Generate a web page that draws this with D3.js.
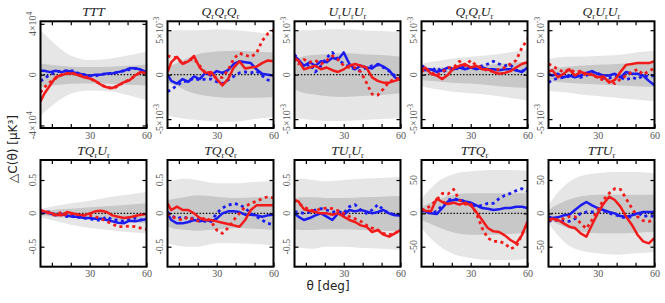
<!DOCTYPE html>
<html><head><meta charset="utf-8">
<script src="https://cdn.jsdelivr.net/npm/d3@7"></script>
<style>body{margin:0;background:#fff}</style>
</head><body><svg id="chart" width="665" height="303"></svg>
<script>
// ---------- DATA ----------
const theta = [4,6,9,12,15,18,21,24,27,30,33,36,39,42,45,48,51,54,57,60];
const bandTheta = [4,8,14,20,30,40,50,60];
const titles = ["TTT","Q_rQ_rQ_r","U_rU_rU_r","Q_rQ_rU_r","Q_rU_rU_r","TQ_rU_r","TQ_rQ_r","TU_rU_r","TTQ_r","TTU_r"];
// values in display units (TTT: 1e4, Q/U top row: 1e-3)
const yMax = [4.2,6,6,6,6,0.8,0.8,0.8,80,80];
const yTick = [4,5,5,5,5,0.5,0.5,0.5,50,50];
const yTickLabels = [
  ["-4×10^4","0","4×10^4"],["-5×10^-3","0","5×10^-3"],["-5×10^-3","0","5×10^-3"],["-5×10^-3","0","5×10^-3"],["-5×10^-3","0","5×10^-3"],
  ["-0.5","0","0.5"],["-0.5","0","0.5"],["-0.5","0","0.5"],["-50","0","50"],["-50","0","50"]];
const xTickLabels = [30,60];

const redSolid = [
  [-2.1,-1.5,-0.85,-0.2,-0.05,0.1,0.1,-0.05,-0.2,-0.3,-0.5,-0.8,-1.0,-1.05,-0.85,-0.6,-0.45,-0.05,0.2,0.1],
  [0.3,1.4,2.0,1.2,1.5,2.1,0.8,0.2,0.3,-0.5,-1.2,-0.5,0.8,1.5,0.7,0.8,0.9,1.3,1.6,1.5],
  [1.9,1.6,0.6,0.8,1.0,0.6,0.8,0.5,0.3,0.6,1.0,1.2,1.0,0.8,-0.3,-0.7,-0.9,-0.9,-0.7,-0.5],
  [0.6,0.8,0.1,-0.1,-0.5,0.0,0.7,1.0,1.2,0.8,1.0,0.6,0.6,0.3,0.1,0.2,0.4,0.8,1.2,1.4],
  [0.3,0.5,-0.3,0.1,0.6,-0.1,0.3,0.1,0.0,-0.3,-0.2,-0.9,-0.6,0.3,1.1,1.2,1.3,1.3,1.3,1.5],
  [0.04,0.03,0.01,-0.02,-0.03,0.02,0,-0.02,-0.03,0,0.03,0.04,0.02,-0.03,-0.05,-0.07,-0.06,-0.04,-0.02,-0.01],
  [0.15,0.05,0.1,0.05,0.05,0.0,-0.07,-0.1,-0.1,-0.12,-0.14,-0.16,-0.18,-0.2,-0.1,0.05,0.12,0.12,0.12,0.12],
  [0.2,0.18,0.06,0.04,0.02,0.0,0.0,-0.02,0.0,-0.05,-0.1,-0.13,-0.18,-0.2,-0.28,-0.25,-0.32,-0.35,-0.3,-0.25],
  [6,4,3,22,17,14,16,13,16,12,2,-10,-22,-27,-28,-33,-40,-45,-33,-12],
  [-10,-8,-10,-15,-20,-22,-30,-35,-17,0,14,25,20,10,-5,-17,-32,-42,-45,-37]
];
const redDotted = [
  [-1.4,-1.0,-0.6,-0.3,0.0,0.1,0.1,0.0,-0.1,-0.3,-0.5,-0.8,-1.0,-1.1,-0.9,-0.6,-0.4,-0.1,0.2,0.1],
  [2.1,2.0,1.9,1.2,1.6,1.8,1.0,0.2,0.0,-0.4,-0.3,0.5,1.8,2.4,2.2,2.0,2.4,3.8,4.6,5.0],
  [1.8,1.2,1.7,1.4,1.6,1.2,1.6,2.1,1.7,1.0,0.8,0.8,0.3,-0.9,-2.2,-2.3,-1.6,-0.8,-0.5,-0.4],
  [0.3,0.7,0.3,-0.1,0.3,0.8,0.8,1.5,1.0,1.6,1.0,0.8,0.4,0.4,0.6,0.8,1.2,1.6,3.0,4.0],
  [1.2,1.0,0.6,0.3,0.6,0.3,0.4,-0.1,0.1,-0.4,-0.6,-0.7,-1.0,-0.5,-0.1,0.3,0.6,0.0,0.4,0.7],
  [0.05,0.02,0,-0.03,0.02,-0.03,0,-0.02,-0.03,-0.03,-0.05,-0.08,-0.12,-0.16,-0.2,-0.2,-0.19,-0.2,-0.22,-0.24],
  [0.0,-0.05,-0.08,-0.1,-0.05,-0.1,-0.12,-0.06,-0.12,-0.25,-0.3,-0.22,-0.1,0.0,0.1,0.15,0.18,0.22,0.25,0.23],
  [0.2,0.15,0.1,0.05,0.04,0.07,0.08,0.07,0.04,0.0,-0.05,-0.08,-0.12,-0.18,-0.22,-0.25,-0.3,-0.32,-0.3,-0.25],
  [5,6,12,20,30,29,36,20,14,14,0,-22,-37,-42,-42,-45,-53,-50,-32,-14],
  [-10,-10,-10,-8,-5,-5,-15,-23,-10,5,20,30,37,36,22,8,-5,-11,-12,-10]
];
const blueSolid = [
  [0.3,0.3,0.2,0.3,0.2,0.3,0.2,0.1,0.0,-0.1,0.0,0.0,0.1,0.1,0.2,0.3,0.5,0.5,0.4,0.2],
  [0,-0.7,-1.0,-0.5,-0.8,-0.2,-0.5,0.2,-0.1,0.4,0.2,0.5,1.2,1.5,1.4,1.3,0.6,0.1,0,-0.1],
  [2.1,1.7,1.0,1.4,1.0,1.5,1.4,1.9,1.7,2.5,1.2,0.6,1.0,0.8,0.7,1.2,0.9,0.5,-0.3,-0.6],
  [0.8,0.5,0.6,0.3,0.5,0.8,0.6,0.8,0.6,0.8,0.6,0.8,0.6,0.6,0.5,0.6,0.6,0.5,0.3,0.8],
  [0.1,-0.1,0.1,-0.3,-0.1,-0.3,-0.1,0.2,0.4,0.1,-0.1,-0.1,0.1,-0.3,0.3,0.1,0.1,-0.1,-0.7,-1.2],
  [0.03,0.02,0,-0.03,-0.01,-0.03,-0.05,-0.05,-0.07,-0.07,-0.08,-0.08,-0.1,-0.12,-0.14,-0.15,-0.11,-0.12,-0.1,-0.09],
  [0.0,-0.1,-0.15,-0.15,-0.13,-0.1,-0.12,-0.1,-0.12,-0.08,0.0,0.03,0.03,0.02,-0.02,-0.02,-0.03,-0.05,-0.03,-0.02],
  [0.0,-0.05,-0.1,-0.07,-0.03,0.0,-0.05,-0.1,0.0,-0.02,0.05,0.03,0.05,0.03,0.0,0.02,0.05,0.0,-0.03,-0.03],
  [5,3,0,-1,8,18,20,20,18,16,12,8,7,5,6,8,8,10,10,8],
  [-5,-7,-6,-3,-2,5,12,17,12,8,5,2,0,-4,-5,-3,0,2,2,2]
];
const blueDotted = [
  [-0.5,-0.3,0.0,0.2,0.3,0.3,0.3,0.1,0.0,-0.1,-0.1,0.0,0.1,0.1,0.2,0.3,0.4,0.5,0.3,0.2],
  [-1.9,-1.7,-1.2,-0.8,-0.7,-0.4,-0.6,-0.5,-0.5,-0.8,-1.0,-0.6,-0.2,0.2,0.3,0.2,0.4,-0.1,-0.6,-0.7],
  [2.3,1.6,0.8,1.2,0.3,1.0,1.9,2.5,1.7,1.2,0.9,0.6,0.4,0.8,1.0,1.1,0.8,0.4,-0.1,-0.3],
  [1.0,0.8,0.4,0.8,0.3,0.6,0.8,0.6,1.0,0.8,0.8,1.0,1.2,1.5,1.2,1.0,1.1,0.5,0.4,0.6],
  [-0.9,-0.6,-0.4,-0.3,-0.2,-0.2,-0.3,-0.1,0.3,0.2,-0.4,-0.4,-0.2,-0.3,-0.6,-0.3,-0.5,-0.1,-0.2,-0.1],
  [0,0.02,0.02,-0.02,-0.01,-0.05,-0.03,-0.06,-0.07,-0.08,-0.1,-0.1,-0.05,-0.1,-0.1,-0.12,-0.09,-0.07,-0.1,-0.08],
  [0.02,-0.03,-0.08,-0.05,-0.08,-0.07,-0.1,-0.12,-0.12,0.0,0.08,0.12,0.15,0.13,0.08,0.0,-0.05,-0.1,-0.15,-0.17],
  [0.02,0.02,0.0,0.02,0.05,0.07,0.05,0.02,0.03,0.0,0.1,0.13,0.05,0.0,0.05,0.13,0.05,0.0,-0.02,-0.03],
  [5,2,0,3,12,20,22,20,18,15,10,12,15,15,22,27,30,34,37,33],
  [-12,-10,-10,-12,-12,-8,0,2,2,2,4,0,-2,-5,-7,-5,2,-5,-3,-5]
];
const outerHi = [
  [3.5,2.9,2.1,1.5,1.15,1.25,1.5,1.8],
  [4.8,5.0,5.0,5.0,5.1,5.0,4.8,4.5],
  [4.9,5.0,5.0,5.1,5.1,5.0,4.9,4.8],
  [1.2,1.4,1.6,1.8,2.0,2.2,2.5,2.8],
  [1.8,1.9,2.0,2.0,2.1,2.2,2.5,2.7],
  [0.06,0.09,0.12,0.15,0.19,0.24,0.28,0.32],
  [0.45,0.5,0.52,0.5,0.45,0.45,0.47,0.48],
  [0.5,0.52,0.5,0.48,0.5,0.52,0.53,0.55],
  [22,35,50,58,63,65,65,64],
  [12,28,45,55,60,62,62,60]
];
const outerLo = [
  [-3.2,-2.7,-2.0,-1.5,-1.25,-1.3,-1.6,-2.0],
  [-4.6,-4.8,-5.0,-5.1,-5.3,-5.3,-5.0,-4.8],
  [-4.8,-5.0,-5.1,-5.2,-5.2,-5.1,-5.0,-4.9],
  [-1.3,-1.5,-1.7,-1.9,-2.1,-2.3,-2.6,-2.9],
  [-1.8,-1.9,-2.0,-2.2,-2.4,-2.6,-2.8,-3.0],
  [-0.06,-0.09,-0.13,-0.17,-0.22,-0.25,-0.28,-0.3],
  [-0.45,-0.48,-0.5,-0.5,-0.45,-0.45,-0.46,-0.48],
  [-0.5,-0.52,-0.53,-0.5,-0.5,-0.52,-0.53,-0.55],
  [-22,-35,-50,-60,-67,-70,-70,-68],
  [-15,-30,-47,-55,-60,-62,-60,-58]
];
const innerHi = [
  [0.87,0.8,0.7,0.62,0.6,0.62,0.7,0.8],
  [0.9,1.2,1.8,2.3,2.6,2.7,2.6,2.5],
  [1.6,2.0,2.2,2.3,2.4,2.3,2.2,2.0],
  [0.6,0.7,0.8,0.9,1.0,1.1,1.3,1.4],
  [0.7,0.8,0.9,1.0,1.1,1.2,1.3,1.4],
  [0.03,0.04,0.06,0.07,0.09,0.11,0.13,0.15],
  [0.2,0.22,0.25,0.27,0.25,0.23,0.24,0.25],
  [0.22,0.24,0.24,0.23,0.23,0.24,0.25,0.26],
  [10,15,22,27,30,30,30,30],
  [5,12,20,25,28,28,28,28]
];
const innerLo = [
  [-0.97,-0.9,-0.8,-0.72,-0.7,-0.72,-0.8,-0.85],
  [-0.9,-1.2,-1.8,-2.2,-2.5,-2.6,-2.6,-2.5],
  [-1.6,-2.0,-2.2,-2.4,-2.5,-2.4,-2.3,-2.1],
  [-0.6,-0.7,-0.8,-0.9,-1.0,-1.2,-1.4,-1.5],
  [-0.7,-0.8,-0.9,-1.0,-1.1,-1.2,-1.3,-1.4],
  [-0.03,-0.04,-0.06,-0.07,-0.09,-0.11,-0.13,-0.15],
  [-0.2,-0.23,-0.25,-0.26,-0.24,-0.22,-0.23,-0.25],
  [-0.24,-0.25,-0.25,-0.24,-0.24,-0.25,-0.26,-0.27],
  [-10,-15,-22,-28,-32,-32,-31,-30],
  [-8,-15,-22,-27,-30,-30,-29,-28]
];

// ---------- DRAW ----------
const svg = d3.select("#chart");
const W = 106, H = 106.7;
const colX = [40.5, 167.5, 294.5, 421.5, 548.5];
const rowY = [21.3, 160];
const RED = "#f21b1b", BLUE = "#1c1cf0";
const serif = "'Liberation Serif','DejaVu Serif',serif";
const sans = "'DejaVu Sans','Liberation Sans',Arial,sans-serif";

function supLabel(textSel, str) {
  const parts = str.split("^");
  textSel.append("tspan").text(parts[0]);
  if (parts.length > 1) textSel.append("tspan").attr("dy", -4).attr("font-size", "7.5px").text(parts[1]);
}

for (let p = 0; p < 10; p++) {
  const col = p % 5, row = Math.floor(p / 5);
  const g = svg.append("g").attr("transform", `translate(${colX[col]},${rowY[row]})`);
  const x = d3.scaleLinear().domain([4, 60]).range([0, W]);
  const y = d3.scaleLinear().domain([-yMax[p], yMax[p]]).range([H, 0]);
  const cid = "clip" + p;
  g.append("clipPath").attr("id", cid).append("rect").attr("width", W).attr("height", H);
  const plot = g.append("g").attr("clip-path", `url(#${cid})`);

  const band = (hi, lo) => d3.area().curve(d3.curveMonotoneX)
    .x((d, i) => x(bandTheta[i])).y0((d, i) => y(lo[i])).y1((d, i) => y(hi[i]));
  plot.append("path").datum(outerHi[p]).attr("fill", "#e6e6e6").attr("d", band(outerHi[p], outerLo[p]));
  plot.append("path").datum(innerHi[p]).attr("fill", "#c8c8c8").attr("d", band(innerHi[p], innerLo[p]));

  plot.append("line").attr("x1", 0).attr("x2", W).attr("y1", y(0)).attr("y2", y(0))
    .attr("stroke", "#000").attr("stroke-width", 1.4).attr("stroke-dasharray", "1.4,1.8");

  const line = d3.line().x((d, i) => x(theta[i])).y(d => y(d));
  const series = [
    [blueSolid[p], BLUE, null], [blueDotted[p], BLUE, "3,3.5"],
    [redSolid[p], RED, null], [redDotted[p], RED, "3,3.5"]
  ];
  series.forEach(([vals, c, dash]) => {
    const pth = plot.append("path").datum(vals).attr("fill", "none").attr("stroke", c)
      .attr("stroke-width", 2.5).attr("stroke-linejoin", "round").attr("d", line);
    if (dash) pth.attr("stroke-dasharray", dash).attr("stroke-width", 2.8);
  });

  // axes
  const styleAxis = a => {
    a.select(".domain").remove();
    a.selectAll(".tick line").attr("stroke", "#000").attr("stroke-width", 1.2);
    a.selectAll(".tick text").filter(function () { return this.textContent === ""; }).remove();
  };
  const bx = g.append("g").attr("transform", `translate(0,${H})`)
    .call(d3.axisBottom(x).tickValues([10,20,30,40,50,60]).tickSizeInner(-4).tickSizeOuter(0).tickPadding(3.5)
      .tickFormat(d => xTickLabels.includes(d) ? d : ""));
  styleAxis(bx);
  bx.selectAll("text").attr("font-family", serif).attr("font-size", "10px").attr("fill", "#555");
  const tx = g.append("g").call(d3.axisTop(x).tickValues([10,20,30,40,50]).tickSizeInner(-4).tickSizeOuter(0).tickFormat(""));
  styleAxis(tx);
  const yt = [-yTick[p], 0, yTick[p]];
  const ly = g.append("g").call(d3.axisLeft(y).tickValues(yt).tickSizeInner(-4).tickSizeOuter(0).tickFormat(""));
  styleAxis(ly);
  const ry = g.append("g").attr("transform", `translate(${W},0)`).call(d3.axisRight(y).tickValues(yt).tickSizeInner(-4).tickSizeOuter(0).tickFormat(""));
  styleAxis(ry);

  yt.forEach((v, i) => {
    const t = g.append("text").attr("transform", `translate(-5,${y(v)}) rotate(-90)`)
      .attr("text-anchor", "middle").attr("font-family", serif).attr("font-size", "10px").attr("fill", "#555");
    supLabel(t, yTickLabels[p][i]);
  });

  // frame
  g.append("rect").attr("width", W).attr("height", H).attr("fill", "none").attr("stroke", "#000").attr("stroke-width", 2);

  // title
  const tt = g.append("text").attr("x", W / 2).attr("y", -5).attr("text-anchor", "middle")
    .attr("font-family", serif).attr("font-size", "13.5px").attr("fill", "#222");
  const tokens = titles[p].match(/[A-Z](_r)?/g);
  let pendingDy = 0;
  tokens.forEach(tok => {
    tt.append("tspan").attr("font-style", "italic").attr("dy", pendingDy).text(tok[0]);
    pendingDy = 0;
    if (tok.length > 1) {
      tt.append("tspan").attr("font-size", "8.5px").attr("dy", 2.5).text("r");
      pendingDy = -2.5;
    }
  });
}

// global axis labels
svg.append("text").attr("transform", "translate(17,149) rotate(-90)").attr("text-anchor", "middle")
  .attr("font-family", sans).attr("font-size", "12px").attr("fill", "#222").text("△C(θ) [μK³]");
svg.append("text").attr("x", 328).attr("y", 290).attr("text-anchor", "middle")
  .attr("font-family", sans).attr("font-size", "12px").attr("fill", "#222").text("θ [deg]");
</script>
</body></html>
